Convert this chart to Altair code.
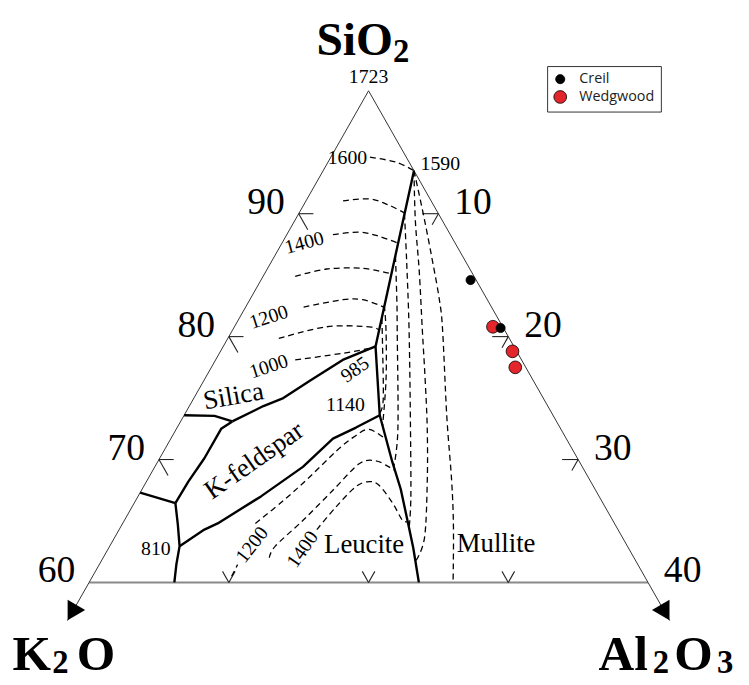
import numpy as np
import pandas as pd
import altair as alt

SQ3 = np.sqrt(3) / 2

# ---------------------------------------------------------------- data
# every point is (SiO2 wt%, Al2O3 wt%);  K2O = 100 - SiO2 - Al2O3
boundaries = {
    "main": [(93.5, 6.5), (79.2, 10.9), (73.6, 14.0), (69.8, 16.8), (67.6, 18.5),
             (64.7, 20.5), (62.8, 21.8), (60.0, 23.6)],
    "silica_kfs": [(79.2, 10.9), (78.1, 9.1), (76.4, 7.6), (75.0, 6.4), (74.35, 5.3), (73.1, 3.7)],
    "silica_edge": [(73.1, 3.7), (73.55, 2.2), (73.6, 0.0)],
    "kfs_left": [(73.1, 3.7), (72.5, 3.2), (70.1, 3.2), (68.2, 3.0), (66.45, 2.95)],
    "left_edge": [(66.45, 2.95), (66.85, 1.55), (67.3, 0.0)],
    "left_down": [(66.45, 2.95), (64.7, 4.0), (62.95, 5.0), (61.5, 5.5), (60.0, 6.1)],
    "kfs_leucite": [(62.95, 5.0), (64.3, 6.1), (64.8, 6.8), (67.0, 8.8), (69.4, 10.6),
                    (71.7, 11.6), (72.6, 12.8), (73.6, 14.0)],
}

isotherms = {
    "t1600": [(94.6, 2.8), (94.2, 4.85), (93.5, 6.5)],
    "t1500": [(91.05, 2.65), (91.2, 4.45), (90.7, 6.1), (90.05, 7.55)],
    "t1400": [(88.3, 3.3), (88.5, 5.1), (88.15, 6.7), (87.6, 8.3)],
    "t1300": [(84.9, 2.3), (85.5, 4.25), (85.55, 6.8), (85.1, 9.1)],
    "t1200": [(82.4, 4.15), (83.0, 6.65), (83.0, 8.1), (82.4, 9.9)],
    "t1100": [(79.85, 3.65), (80.8, 6.6), (80.8, 9.65), (80.5, 10.5)],
    "t1000": [(78.1, 5.7), (78.65, 8.85), (79.05, 10.55), (79.2, 10.9)],
    "mA": [(93.5, 6.5), (89.8, 9.05), (86.15, 11.5), (82.95, 13.6), (80.5, 15.05),
           (73.5, 18.85), (68.2, 21.85), (64.45, 23.85), (60.0, 26.05)],
    "mB": [(93.5, 6.5), (89.4, 8.65), (85.35, 10.95), (80.5, 13.6), (76.5, 15.8),
           (72.5, 17.95), (68.2, 20.1), (63.6, 22.2), (61.7, 22.5)],
    "mC": [(90.0, 7.57), (86.15, 9.65), (80.5, 12.65), (72.5, 16.75), (66.85, 19.6), (64.4, 20.7)],
    "mD": [(86.55, 8.65), (82.95, 10.55), (80.5, 11.8), (72.5, 15.85), (69.4, 17.1)],
    "mE": [(82.55, 9.85), (80.5, 11.0), (76.5, 13.0), (72.7, 14.65)],
    "mF": [(81.5, 10.2), (79.3, 11.35), (74.9, 13.6), (73.8, 13.9)],
    "lA0": [(60.5, 9.95), (61.45, 9.9)],
    "lA": [(64.8, 9.5), (66.7, 10.6), (68.6, 11.5), (70.7, 12.35), (71.8, 13.0),
           (72.45, 13.8), (71.65, 15.4)],
    "lB": [(62.0, 11.9), (62.95, 11.85), (65.1, 12.8), (67.5, 13.7), (69.65, 14.5),
           (69.9, 15.55), (69.4, 16.75), (69.1, 17.35)],
    "lC": [(64.3, 14.15), (66.15, 14.6), (67.8, 15.2), (68.2, 15.95), (67.9, 16.8),
           (66.45, 18.5), (65.1, 19.85), (64.95, 20.3)],
}

side_edges = {"left": [(100, 0), (60, 0), (56.9, 0)],
              "right": [(100, 0), (60, 40), (56.9, 43.1)]}
bottom_edge = {"bottom": [(60, 0), (60, 40)]}
arrow_tips = [(57.55, 0.0), (57.55, 42.45)]

left_ticks = [90, 80, 70]      # SiO2 along K2O-SiO2 side
right_ticks = [10, 20, 30]     # Al2O3 along SiO2-Al2O3 side
bottom_ticks = [10, 20, 30]    # Al2O3 along the 60 % SiO2 base

left_labels = ["90", "80", "70", "60"]
left_label_S = [90, 80, 70, 60]
right_labels = ["10", "20", "30", "40"]
right_label_A = [10, 20, 30, 40]

temp_text = ["1600", "1400", "1200", "1000", "985", "1140", "810", "1200", "1400", "1590"]
temp_S = [94.53, 87.61, 81.57, 77.55, 77.30, 74.41, 62.68, 63.06, 62.68, 94.07]
temp_A = [1.22, 1.60, 2.08, 4.09, 10.39, 11.14, 3.44, 10.15, 13.95, 8.10]
temp_angle = [0, 345, 342, 342, 325, 0, 0, 308, 305, 0]

field_text = ["Silica", "K-feldspar", "Leucite", "Mullite"]
field_S = [75.13, 69.90, 63.06, 63.14]
field_A = [2.77, 6.87, 18.15, 27.56]
field_angle = [350, 325, 0, 0]

series = ["Wedgwood", "Wedgwood", "Wedgwood", "Creil", "Creil"]
sample_S = [80.8, 78.8, 77.5, 84.6, 80.7]
sample_A = [18.5, 20.9, 21.75, 15.0, 19.1]


# ---------------------------------------------------------------- helpers
def to_xy(S, A):
    s = (np.asarray(S, float) - 60.0) / 40.0
    a = np.asarray(A, float) / 40.0
    return a + s / 2.0, s * SQ3


def lines_frame(named):
    rows = []
    for name, pts in named.items():
        for i, (S, A) in enumerate(pts):
            x, y = to_xy(S, A)
            rows.append({"g": name, "o": i, "X": float(x), "Y": float(y)})
    return pd.DataFrame(rows)


def pts_frame(S, A, **cols):
    x, y = to_xy(S, A)
    d = {"X": x, "Y": y}
    d.update(cols)
    return pd.DataFrame(d)


tick_segs = {}
for v in left_ticks:
    tick_segs[f"L{v}a"] = [(v, 0), (v, 1.05)]
    tick_segs[f"L{v}b"] = [(v, 0), (v - 1.3, 1.3)]
for v in right_ticks:
    tick_segs[f"R{v}a"] = [(100 - v, v), (100 - v, v - 1.15)]
    tick_segs[f"R{v}b"] = [(100 - v, v), (100 - v - 0.9, v)]
for v in bottom_ticks:
    tick_segs[f"B{v}a"] = [(60, v), (60.9, v - 0.9)]
    tick_segs[f"B{v}b"] = [(60, v), (60.9, v)]

# ---------------------------------------------------------------- scales
W, H = 741, 677
xs = alt.Scale(domain=[-82 / 565, (W - 82) / 565], nice=False, zero=False)
ys = alt.Scale(domain=[(577 - H) / 497 * SQ3, 577 / 497 * SQ3], nice=False, zero=False)
X = alt.X("X:Q", scale=xs, axis=None)
Y = alt.Y("Y:Q", scale=ys, axis=None)
SERIF = "Liberation Serif"


def line_layer(df, **mark):
    return alt.Chart(df).mark_line(**mark).encode(x=X, y=Y, detail="g:N", order="o:Q")


layers = [
    line_layer(lines_frame(bottom_edge), color="#8a8a8a", strokeWidth=2),
    line_layer(lines_frame(side_edges), color="#333333", strokeWidth=1),
    line_layer(lines_frame(tick_segs), color="#222222", strokeWidth=1.1),
    line_layer(lines_frame(isotherms), color="black", strokeWidth=1.3,
               strokeDash=[6, 4], interpolate="cardinal"),
    line_layer(lines_frame(boundaries), color="black", strokeWidth=2.4,
               strokeJoin="round"),
]

tip = pts_frame([a[0] for a in arrow_tips], [a[1] for a in arrow_tips])
layers.append(alt.Chart(tip.iloc[[0]]).mark_point(shape="triangle-down", filled=True, size=420,
                                                   color="black", opacity=1, angle=30).encode(x=X, y=Y))
layers.append(alt.Chart(tip.iloc[[1]]).mark_point(shape="triangle-down", filled=True, size=420,
                                                   color="black", opacity=1, angle=330).encode(x=X, y=Y))

temps = pts_frame(temp_S, temp_A, text=temp_text, ang=temp_angle)
layers.append(alt.Chart(temps).mark_text(font=SERIF, fontSize=20, align="center", baseline="middle",
                                         color="black").encode(
    x=X, y=Y, text="text:N", angle=alt.Angle("ang:Q", scale=None)))

fields = pts_frame(field_S, field_A, text=field_text, ang=field_angle)
layers.append(alt.Chart(fields).mark_text(font=SERIF, fontSize=27, align="center", baseline="middle",
                                          color="black").encode(
    x=X, y=Y, text="text:N", angle=alt.Angle("ang:Q", scale=None)))

apex = pts_frame([100], [0], text=["1723"])
layers.append(alt.Chart(apex).mark_text(font=SERIF, fontSize=20, align="center", baseline="middle",
                                        dy=-14, color="black").encode(x=X, y=Y, text="text:N"))

lt = pts_frame(left_label_S, [0] * 4, text=left_labels)
layers.append(alt.Chart(lt).mark_text(font=SERIF, fontSize=38, align="center", baseline="middle",
                                      dx=-33, dy=-11, color="black").encode(x=X, y=Y, text="text:N"))
rt = pts_frame([100 - a for a in right_label_A], right_label_A, text=right_labels)
layers.append(alt.Chart(rt).mark_text(font=SERIF, fontSize=38, align="center", baseline="middle",
                                      dx=35, dy=-11, color="black").encode(x=X, y=Y, text="text:N"))


# oxide corner names
def corner_text(S, A, txt, size, dx, dy):
    return alt.Chart(pts_frame([S], [A], text=[txt])).mark_text(
        font=SERIF, fontWeight="bold", fontSize=size, align="center", baseline="alphabetic",
        dx=dx, dy=dy, color="black").encode(x=X, y=Y, text="text:N")


layers += [
    corner_text(100, 0, "SiO", 48, -14, -36),
    corner_text(100, 0, "2", 33, 33, -29),
    corner_text(60, 0, "K", 50, -58, 89),
    corner_text(60, 0, "2", 33, -29, 92),
    corner_text(60, 0, "O", 50, 7, 89),
    corner_text(60, 40, "Al", 50, -25, 89),
    corner_text(60, 40, "2", 33, 13, 92),
    corner_text(60, 40, "O", 50, 46, 89),
    corner_text(60, 40, "3", 33, 78, 92),
]

samples = pts_frame(sample_S, sample_A, series=series)
leg = alt.Legend(title=None, orient="none", legendX=545, legendY=55, strokeColor="#333333",
                 fillColor="white", padding=6, rowPadding=3, labelOffset=12,
                 labelFont="Open Sans", labelFontSize=14.5, labelColor="#222222",
                 symbolType="circle", symbolStrokeColor="black", symbolStrokeWidth=0.8)
layers.append(alt.Chart(samples).mark_point(filled=True, shape="circle", stroke="black",
                                            strokeWidth=0.8, opacity=1).encode(
    x=X, y=Y,
    color=alt.Color("series:N", scale=alt.Scale(domain=["Creil", "Wedgwood"],
                                                range=["#000000", "#e3262b"]), legend=leg),
    size=alt.Size("series:N", scale=alt.Scale(domain=["Creil", "Wedgwood"], range=[85, 165]),
                  legend=leg),
))

chart = alt.layer(*layers).properties(width=W, height=H, padding=0).configure_view(strokeWidth=0)
chart.save("out.html", embed_options={"renderer": "svg", "actions": False})
